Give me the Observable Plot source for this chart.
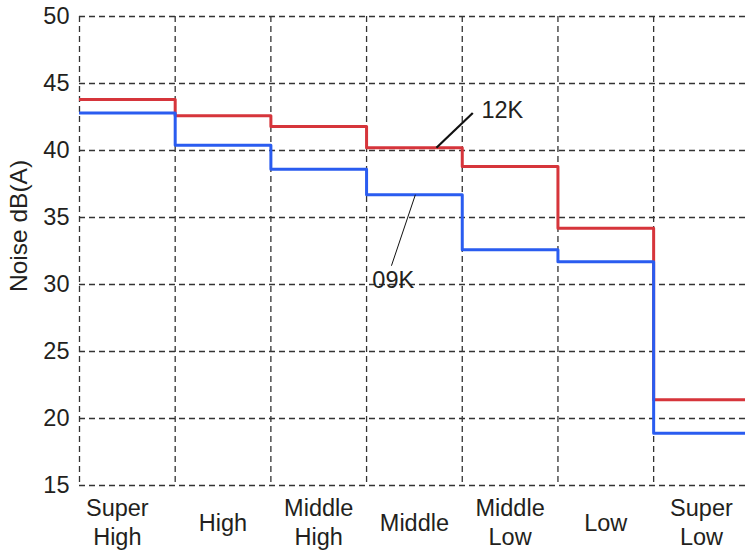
<!DOCTYPE html>
<html>
<head>
<meta charset="utf-8">
<script src="https://cdn.jsdelivr.net/npm/d3@7"></script>
<script src="https://cdn.jsdelivr.net/npm/@observablehq/plot@0.6"></script>
<style>
  html, body { margin: 0; padding: 0; background: white; }
  #chart { width: 745px; height: 551px; overflow: hidden; }
</style>
</head>
<body>
<div id="chart"></div>
<script>
const categories = ["Super\nHigh", "High", "Middle\nHigh", "Middle", "Middle\nLow", "Low", "Super\nLow"];
const noise12K = [43.8, 42.6, 41.8, 40.2, 38.8, 34.2, 21.4];
const noise09K = [42.8, 40.4, 38.6, 36.7, 32.6, 31.7, 18.9];
const yTicks = [15, 20, 25, 30, 35, 40, 45, 50];
const yLabel = "Noise dB(A)";

// annotation leaders (data space: category index, dB)
const label12K = {label: "12K", x1: 3.73, y1: 40.2, x2: 4.11, y2: 42.8, tx: 4.2, ty: 43.0};
const label09K = {label: "09K", x1: 3.51, y1: 36.7, x2: 3.26, y2: 31.4, tx: 3.06, ty: 30.3};

function stepPoints(values) {
  const pts = values.map((v, i) => ({x: i, y: v}));
  pts.push({x: values.length, y: values[values.length - 1]});
  return pts;
}

const ink = "#231f20";
const grid = {stroke: "#333", strokeOpacity: 1, strokeDasharray: "6,4", strokeWidth: 1.3};
const font = 23.5;

const chart = Plot.plot({
  width: 745,
  height: 551,
  marginLeft: 79,
  marginRight: 0,
  marginTop: 16,
  marginBottom: 66,
  style: {fontFamily: "'Liberation Sans', Arial, sans-serif", fontSize: "23px", color: ink, background: "white"},
  x: {type: "linear", domain: [0, 6.96], axis: null},
  y: {domain: [15, 50], axis: null},
  marks: [
    Plot.gridY(yTicks, grid),
    Plot.gridX(d3.range(categories.length), grid),
    Plot.line(stepPoints(noise12K), {x: "x", y: "y", curve: "step-after", stroke: "#d6353b", strokeWidth: 3, clip: true}),
    Plot.line(stepPoints(noise09K), {x: "x", y: "y", curve: "step-after", stroke: "#2a5cf0", strokeWidth: 3, clip: true}),
    Plot.axisY(yTicks, {tickSize: 0, tickPadding: 10, label: null, fontSize: 23.5, fill: ink}),
    Plot.text(categories.slice(0, 1), {x: (d, i) => i + 0.5, text: d => d, frameAnchor: "bottom", dy: 36, dx: -10, lineAnchor: "middle", lineHeight: 1.22, fontSize: font, fill: ink}),
    Plot.text(categories.slice(1), {x: (d, i) => i + 1.5, text: d => d, frameAnchor: "bottom", dy: 36, lineAnchor: "middle", lineHeight: 1.22, fontSize: font, fill: ink}),
    Plot.text([yLabel], {text: d => d, frameAnchor: "left", textAnchor: "middle", rotate: -90, dx: -60, dy: -25, fontSize: 24.5, fill: ink}),
    Plot.link([label12K], {x1: "x1", y1: "y1", x2: "x2", y2: "y2", stroke: "#111", strokeWidth: 2.2}),
    Plot.link([label09K], {x1: "x1", y1: "y1", x2: "x2", y2: "y2", stroke: "#111", strokeWidth: 1}),
    Plot.text([label12K, label09K], {x: "tx", y: "ty", text: "label", textAnchor: "start", fontSize: font, fill: ink})
  ]
});
document.getElementById("chart").appendChild(chart);
</script>
</body>
</html>
